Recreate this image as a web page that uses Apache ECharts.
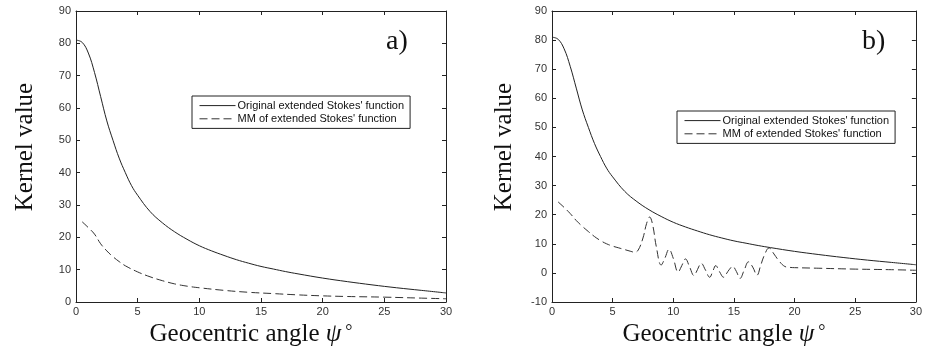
<!DOCTYPE html>
<html>
<head>
<meta charset="utf-8">
<script src="https://cdn.jsdelivr.net/npm/echarts@6/dist/echarts.min.js"></script>
<style>
  html, body { margin: 0; padding: 0; background: #ffffff; }
  #chart { width: 925px; height: 352px; }
</style>
</head>
<body>
<div id="chart"></div>
<script>
// Geocentric angle (degrees) and kernel values of the original extended Stokes' function
const origAngles = [0, 0.5, 1, 1.5, 2, 2.5, 3, 3.5, 4, 4.5, 5, 6, 7, 8, 9, 10, 11, 12, 13, 14, 15, 16, 17, 18, 20, 22, 24, 26, 28, 30];
const origValues = [81, 80.3, 77, 71, 63.5, 56, 50, 44.5, 40, 36, 33, 28, 24.5, 21.7, 19.4, 17.4, 15.8, 14.4, 13.1, 12, 11, 10.2, 9.4, 8.7, 7.4, 6.3, 5.3, 4.4, 3.6, 2.8];

// Panel a) modified (MM) kernel
const mmAnglesA = [0.5, 1, 1.5, 2, 2.5, 3, 3.5, 4, 5, 6, 7, 8, 9, 10, 12, 14, 16, 18, 20, 22, 25, 28, 30];
const mmValuesA = [24.8, 23, 21, 18, 15.8, 14, 12.5, 11.2, 9.3, 7.8, 6.6, 5.6, 4.9, 4.4, 3.6, 3.0, 2.6, 2.2, 1.9, 1.7, 1.5, 1.2, 1.0];

// Panel b) modified (MM) kernel with oscillations
const mmAnglesB = [0.5, 1, 1.5, 2, 2.5, 3, 3.5, 4, 4.5, 5, 5.5, 6, 6.5, 6.8, 7.1, 7.5, 7.8, 8.05, 8.3, 8.6, 9.0, 9.3, 9.65, 10.0, 10.4, 10.7, 11.0, 11.35, 11.7, 12.0, 12.3, 12.65, 13.0, 13.25, 13.5, 13.8, 14.15, 14.5, 14.9, 15.2, 15.5, 15.85, 16.2, 16.55, 16.9, 17.2, 17.5, 17.9, 18.3, 18.7, 19.2, 19.6, 20, 22, 25, 28, 30];
const mmValuesB = [24.4, 22.5, 20.4, 18, 16, 14.2, 12.5, 11.1, 10, 9.2, 8.6, 8, 7.4, 7.1, 7.8, 12, 17, 19.2, 16.5, 9, 2.7, 5, 8.1, 5, 0.3, 2.5, 4.8, 2, -0.9, 1.2, 3.3, 1, -1.5, 0.5, 2.5, 0.5, -1.5, 0.5, 2.2, 0.5, -1.9, 1, 3.8, 2, -0.8, 2.5, 6, 8.6, 6.5, 4.2, 2.2, 1.9, 1.8, 1.6, 1.3, 1.1, 0.9];

const seriesNames = ["Original extended Stokes' function", "MM of extended Stokes' function"];
const panelLabels = ['a)', 'b)'];

const pairs = (xs, ys) => xs.map((x, i) => [x, ys[i]]);

const axisColor = '#222';
const tickFont = { fontFamily: 'Liberation Sans, Arial, sans-serif', fontSize: 11, color: '#333' };
const serifName = {
  fontFamily: 'Liberation Serif, Times New Roman, serif',
  fontSize: 25,
  color: '#111'
};

function xAxes(gridIndex) {
  const base = {
    type: 'value', gridIndex, min: 0, max: 30, interval: 5,
    axisLine: { show: true, onZero: false, lineStyle: { color: axisColor, width: 1 } },
    axisTick: { show: true, inside: true, length: 4, lineStyle: { color: axisColor } },
    splitLine: { show: false }
  };
  return [
    Object.assign({}, base, {
      position: 'bottom',
      axisLabel: Object.assign({ margin: 4 }, tickFont),
      name: 'Geocentric angle {psi|ψ}{deg|°}',
      nameLocation: 'middle',
      nameGap: 16,
      nameTextStyle: Object.assign({}, serifName, {
        padding: [0, 20, 0, 0],
        rich: {
          psi: Object.assign({}, serifName, { fontStyle: 'italic' }),
          deg: Object.assign({}, serifName, { fontSize: 18, padding: [0, 0, 4, 4] })
        }
      })
    }),
    Object.assign({}, base, { position: 'top', axisLabel: { show: false } })
  ];
}

function yAxes(gridIndex, min, nameGap) {
  const base = {
    type: 'value', gridIndex, min, max: 90, interval: 10,
    axisLine: { show: true, onZero: false, lineStyle: { color: axisColor, width: 1 } },
    axisTick: { show: true, inside: true, length: 4, lineStyle: { color: axisColor } },
    splitLine: { show: false }
  };
  return [
    Object.assign({}, base, {
      position: 'left',
      axisLabel: Object.assign({ margin: 5 }, tickFont),
      name: 'Kernel value',
      nameLocation: 'middle',
      nameGap,
      nameTextStyle: Object.assign({}, serifName, { padding: [0, 0, 0, 19] })
    }),
    Object.assign({}, base, { position: 'right', axisLabel: { show: false } })
  ];
}

function lineSeries(name, data, xIdx, yIdx, dashed) {
  const color = dashed ? '#333' : '#222';
  return {
    name, type: 'line', data,
    xAxisIndex: xIdx, yAxisIndex: yIdx,
    symbol: 'none', smooth: 0.4, silent: true,
    itemStyle: { color },
    lineStyle: { color, width: 1, type: dashed ? [8, 4] : 'solid' }
  };
}

function legend(left, top) {
  return {
    data: seriesNames,
    orient: 'vertical', left, top,
    itemWidth: 36, itemHeight: 14, itemGap: 2,
    padding: [4, 6, 4, 7],
    borderColor: '#222', borderWidth: 1, backgroundColor: '#fff',
    selectedMode: false,
    itemStyle: { opacity: 0 },
    lineStyle: { width: 1 },
    textStyle: { fontFamily: 'Liberation Sans, Arial, sans-serif', fontSize: 11, color: '#111', padding: [0, 0, 0, -3] }
  };
}

const chart = echarts.init(document.getElementById('chart'), null, { renderer: 'canvas' });
chart.setOption({
  animation: false,
  backgroundColor: '#fff',
  grid: [
    { left: 76, top: 11, width: 370, height: 291 },
    { left: 552, top: 11, width: 369, height: 291 }
  ],
  xAxis: [...xAxes(0), ...xAxes(1)],
  yAxis: [...yAxes(0, 0, 38), ...yAxes(1, -10, 35)],
  legend: [legend(192, 96), legend(677, 111)],
  graphic: [
    { type: 'text', left: 386, top: 28, style: { text: panelLabels[0], font: '28px "Liberation Serif", serif', fill: '#111' } },
    { type: 'text', left: 862, top: 28, style: { text: panelLabels[1], font: '28px "Liberation Serif", serif', fill: '#111' } }
  ],
  series: [
    lineSeries(seriesNames[0], pairs(origAngles, origValues), 0, 0, false),
    lineSeries(seriesNames[1], pairs(mmAnglesA, mmValuesA), 0, 0, true),
    lineSeries(seriesNames[0], pairs(origAngles, origValues), 2, 2, false),
    lineSeries(seriesNames[1], pairs(mmAnglesB, mmValuesB), 2, 2, true)
  ]
});
</script>
</body>
</html>
